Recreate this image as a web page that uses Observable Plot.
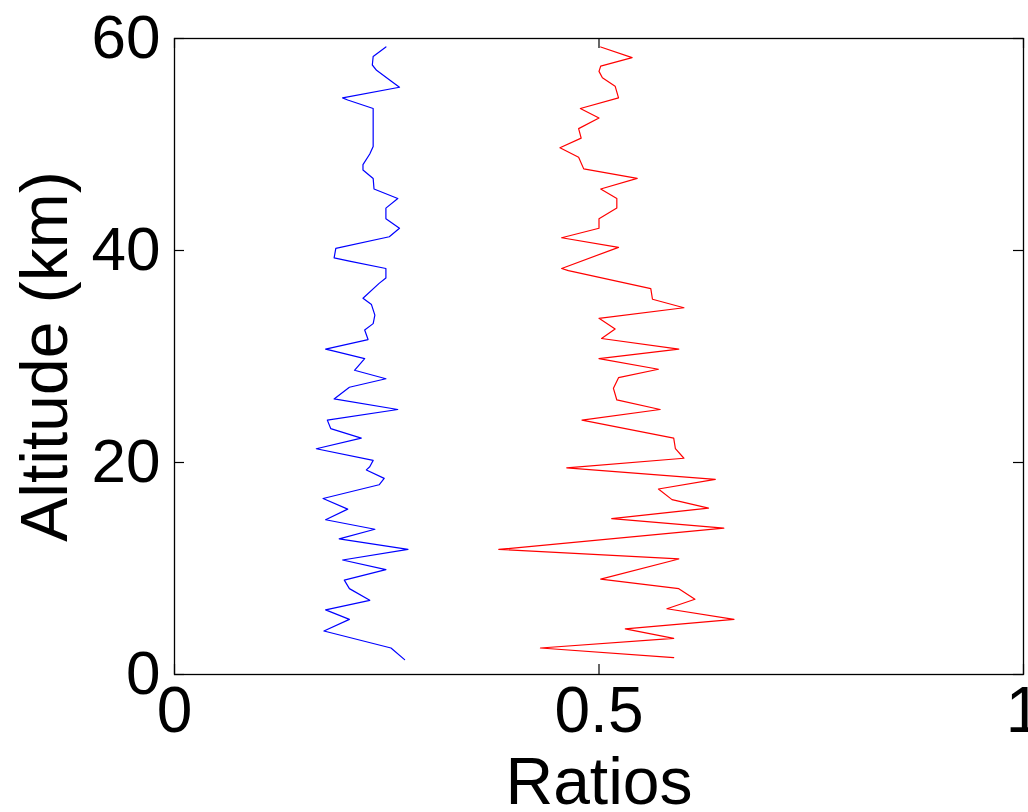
<!DOCTYPE html>
<html>
<head>
<meta charset="utf-8">
<script src="https://cdn.jsdelivr.net/npm/d3@7"></script>
<script src="https://cdn.jsdelivr.net/npm/@observablehq/plot@0.6"></script>
<style>
  html, body { margin: 0; padding: 0; background: #fff; overflow: hidden; }
</style>
</head>
<body>
<div id="chart"></div>
<script>
// Altitude (km) and ratio values
const blueAlt = [59.2,58.3,57.5,57.0,56.0,55.4,54.4,54.2,53.4,53.0,50.9,49.8,49.1,48.1,47.6,46.8,45.8,44.9,44.0,43.0,42.1,41.3,40.2,39.3,39.0,38.3,37.4,36.9,35.5,34.9,33.9,33.1,32.5,31.6,30.7,30.5,29.8,28.7,27.9,27.1,26.0,25.0,24.0,23.2,22.3,21.3,20.2,19.6,19.3,18.5,17.9,16.6,15.6,14.6,13.7,12.8,11.8,10.8,9.9,8.9,8.1,7.0,6.1,5.2,4.1,2.5,1.4];
const blueVal = [0.249,0.234,0.233,0.238,0.255,0.265,0.198,0.204,0.234,0.234,0.234,0.234,0.230,0.222,0.222,0.234,0.235,0.263,0.249,0.249,0.265,0.253,0.190,0.188,0.206,0.249,0.249,0.241,0.222,0.232,0.236,0.234,0.224,0.228,0.178,0.188,0.224,0.212,0.249,0.206,0.188,0.263,0.180,0.184,0.220,0.167,0.234,0.230,0.226,0.247,0.241,0.175,0.204,0.178,0.236,0.194,0.275,0.198,0.249,0.200,0.206,0.230,0.178,0.206,0.176,0.255,0.271];

const redAlt = [59.2,58.2,57.4,56.9,56.3,55.5,54.4,53.4,52.5,51.5,50.6,49.7,48.8,47.7,46.8,45.8,44.9,44.0,43.0,42.1,41.2,40.3,38.3,38.1,36.4,35.4,34.6,33.6,32.6,31.7,30.7,29.8,28.8,28.0,27.0,25.9,25.0,24.0,22.3,21.3,20.4,19.5,18.4,17.5,16.5,15.7,14.7,13.8,11.8,10.9,9.0,8.1,7.1,6.2,5.2,4.3,3.4,2.5,1.6];
const redVal = [0.502,0.539,0.502,0.500,0.504,0.519,0.523,0.478,0.500,0.476,0.479,0.454,0.476,0.482,0.545,0.502,0.521,0.521,0.500,0.500,0.456,0.523,0.456,0.464,0.561,0.563,0.600,0.500,0.519,0.503,0.594,0.500,0.570,0.523,0.517,0.521,0.572,0.480,0.588,0.590,0.600,0.462,0.637,0.570,0.586,0.629,0.515,0.647,0.382,0.594,0.502,0.594,0.613,0.580,0.659,0.531,0.588,0.431,0.588];

const xTicks = [0, 0.5, 1];
const yTicks = [0, 20, 40, 60];
const xLabel = "Ratios";
const yLabel = "Altitude (km)";

const blue = blueAlt.map((a, i) => ({alt: a, v: blueVal[i]}));
const red = redAlt.map((a, i) => ({alt: a, v: redVal[i]}));

const W = 1028, H = 812;
const mL = 174, mR = 5, mT = 38, mB = 138;
const innerW = W - mL - mR, innerH = H - mT - mB;
const tickLen = 10;

const chart = Plot.plot({
  width: W,
  height: H,
  marginLeft: mL,
  marginRight: mR,
  marginTop: mT,
  marginBottom: mB,
  style: {fontFamily: "'Liberation Sans', Arial, sans-serif", fontSize: "62px", background: "white", overflow: "visible", color: "black"},
  x: {domain: [0, 1]},
  y: {domain: [0, 60]},
  marks: [
    Plot.line(blue, {x: "v", y: "alt", stroke: "#0000ff", strokeWidth: 1.2}),
    Plot.line(red, {x: "v", y: "alt", stroke: "#ff0000", strokeWidth: 1.2}),
    // inward ticks on all four sides
    Plot.tickX(xTicks, {x: d => d, insetTop: innerH - tickLen, stroke: "black", strokeWidth: 1.2}),
    Plot.tickX(xTicks, {x: d => d, insetBottom: innerH - tickLen, stroke: "black", strokeWidth: 1.2}),
    Plot.tickY(yTicks, {y: d => d, insetRight: innerW - tickLen, stroke: "black", strokeWidth: 1.2}),
    Plot.tickY(yTicks, {y: d => d, insetLeft: innerW - tickLen, stroke: "black", strokeWidth: 1.2}),
    Plot.frame({stroke: "black", strokeWidth: 1.3}),
    Plot.axisX({ticks: xTicks, tickSize: 0, tickPadding: 12, tickFormat: d => String(d), label: null, fontSize: 64}),
    Plot.axisY({ticks: yTicks, tickSize: 0, tickPadding: 14, tickFormat: d => String(d), label: null, fontSize: 62}),
    Plot.text([xLabel], {text: d => d, frameAnchor: "bottom", dy: 129, fontSize: 66, fill: "black"}),
    Plot.text([yLabel], {text: d => d, frameAnchor: "left", textAnchor: "middle", dx: -129, rotate: -90, fontSize: 66, fill: "black"})
  ]
});
document.getElementById("chart").appendChild(chart);
</script>
</body>
</html>
